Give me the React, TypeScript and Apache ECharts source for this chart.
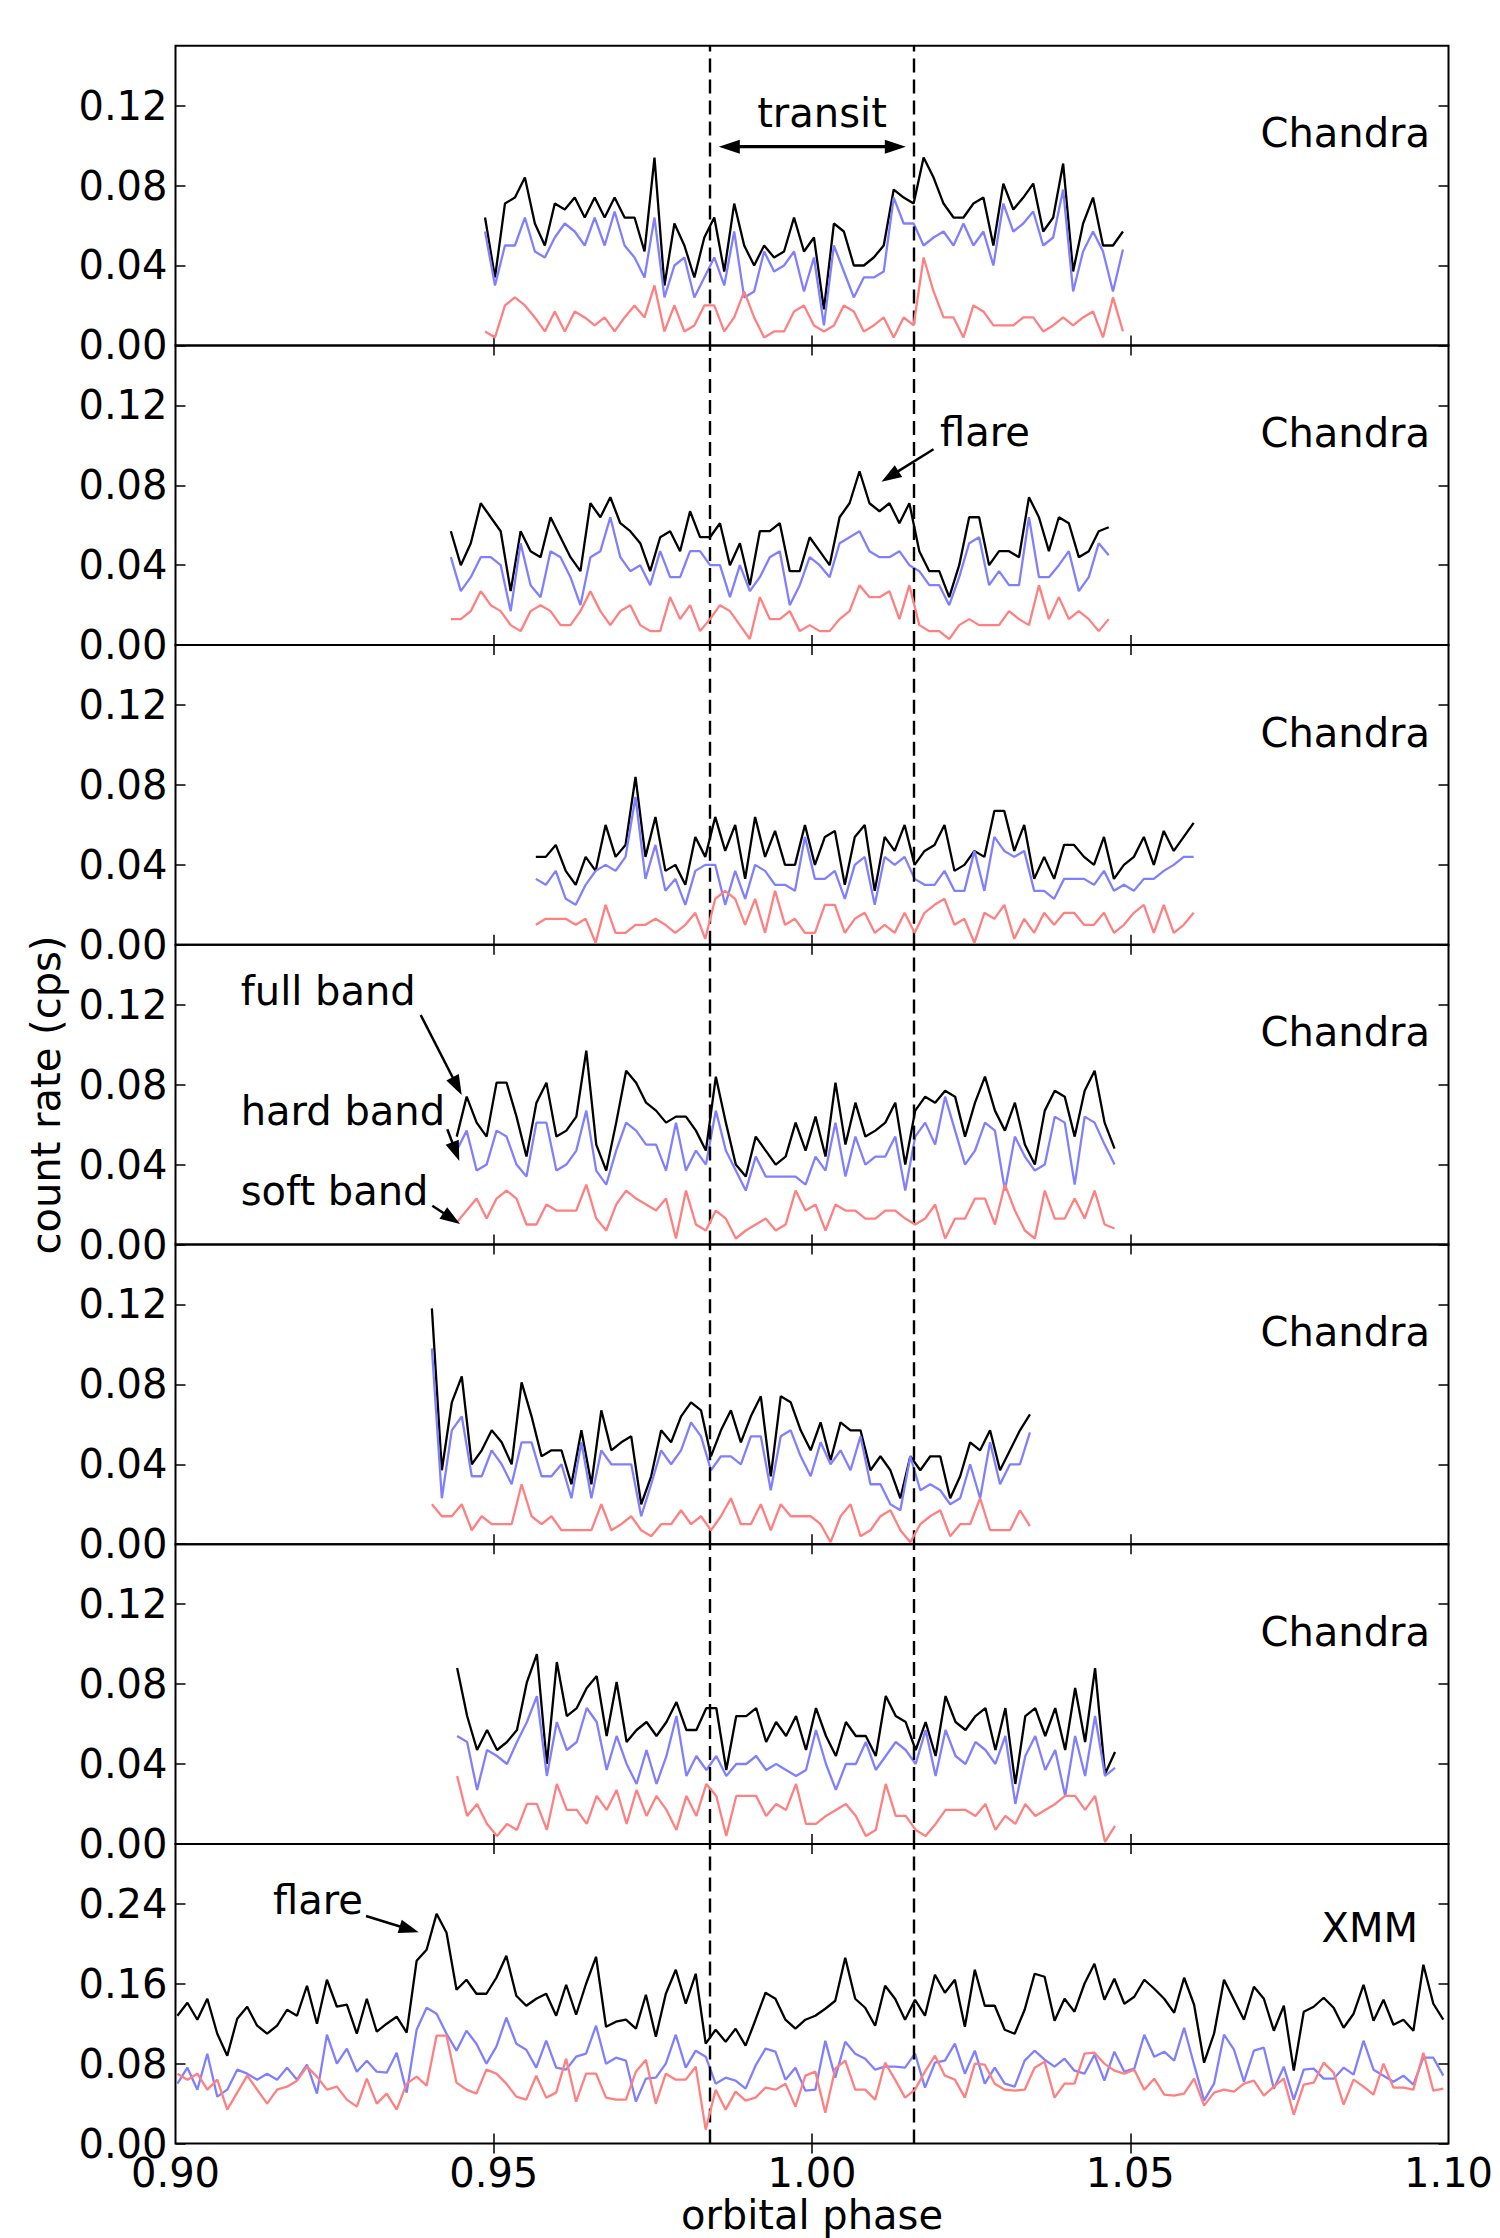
import React, { useEffect, useRef } from "react";
import * as echarts from "echarts";

// ---------- data ----------
const BIN_WIDTH = 0.001566; // phase width of one time bin
const X_TICKS = [0.9, 0.95, 1.0, 1.05, 1.1];
const X_INNER_TICKS = [0.95, 1.0, 1.05];
const CHANDRA_Y_TICKS = [0, 0.04, 0.08, 0.12];
const XMM_Y_TICKS = [0, 0.08, 0.16, 0.24];
const TRANSIT_EDGES = [0.9839, 1.016];

const START_1 = 0.94863;
const full1 = [0.064,0.034,0.071,0.074,0.084,0.061,0.050,0.071,0.068,0.074,0.064,0.074,0.064,0.074,0.064,0.064,0.047,0.094,0.030,0.061,0.050,0.034,0.054,0.064,0.037,0.071,0.050,0.040,0.050,0.044,0.047,0.064,0.047,0.054,0.018,0.061,0.057,0.040,0.040,0.044,0.050,0.078,0.074,0.071,0.094,0.084,0.071,0.064,0.064,0.071,0.074,0.050,0.081,0.068,0.074,0.081,0.057,0.064,0.091,0.037,0.061,0.074,0.050,0.050,0.057];
const hard1 = [0.057,0.030,0.050,0.050,0.064,0.047,0.044,0.054,0.061,0.057,0.050,0.064,0.050,0.067,0.050,0.044,0.034,0.064,0.024,0.040,0.044,0.024,0.034,0.044,0.030,0.057,0.024,0.027,0.047,0.037,0.040,0.047,0.027,0.044,0.010,0.050,0.037,0.024,0.034,0.034,0.037,0.074,0.061,0.061,0.050,0.054,0.057,0.050,0.061,0.050,0.057,0.040,0.071,0.057,0.061,0.067,0.050,0.054,0.078,0.027,0.047,0.057,0.047,0.027,0.048];
const soft1 = [0.007,0.004,0.020,0.024,0.020,0.014,0.007,0.017,0.007,0.017,0.014,0.010,0.014,0.007,0.014,0.020,0.014,0.030,0.007,0.020,0.007,0.010,0.020,0.020,0.007,0.014,0.027,0.014,0.004,0.007,0.007,0.017,0.020,0.010,0.007,0.010,0.020,0.017,0.007,0.010,0.014,0.004,0.014,0.010,0.044,0.027,0.014,0.014,0.004,0.020,0.017,0.010,0.010,0.010,0.014,0.014,0.007,0.010,0.014,0.010,0.014,0.017,0.004,0.024,0.007];

const START_2 = 0.94326;
const full2 = [0.057,0.040,0.051,0.071,0.064,0.057,0.027,0.057,0.047,0.044,0.064,0.054,0.044,0.037,0.071,0.064,0.074,0.061,0.057,0.051,0.037,0.054,0.057,0.047,0.067,0.054,0.054,0.061,0.040,0.051,0.030,0.057,0.057,0.061,0.037,0.037,0.054,0.047,0.040,0.064,0.071,0.087,0.071,0.067,0.071,0.061,0.071,0.047,0.037,0.037,0.024,0.040,0.064,0.064,0.040,0.047,0.047,0.044,0.074,0.064,0.047,0.064,0.061,0.044,0.047,0.057,0.059];
const hard2 = [0.044,0.027,0.034,0.044,0.044,0.040,0.017,0.051,0.030,0.024,0.047,0.044,0.034,0.020,0.044,0.047,0.064,0.044,0.037,0.040,0.030,0.047,0.034,0.034,0.047,0.047,0.040,0.040,0.024,0.040,0.027,0.034,0.044,0.047,0.020,0.030,0.044,0.040,0.034,0.051,0.054,0.057,0.047,0.044,0.044,0.047,0.040,0.037,0.030,0.030,0.020,0.034,0.051,0.054,0.030,0.037,0.030,0.030,0.064,0.034,0.034,0.040,0.047,0.027,0.034,0.051,0.045];
const soft2 = [0.013,0.013,0.017,0.027,0.020,0.017,0.010,0.007,0.017,0.020,0.017,0.010,0.010,0.017,0.027,0.017,0.010,0.017,0.020,0.010,0.007,0.007,0.024,0.013,0.020,0.007,0.013,0.020,0.017,0.010,0.003,0.024,0.013,0.013,0.017,0.007,0.010,0.007,0.007,0.013,0.017,0.030,0.024,0.024,0.027,0.013,0.030,0.010,0.007,0.007,0.003,0.010,0.013,0.010,0.010,0.010,0.017,0.013,0.010,0.030,0.013,0.024,0.013,0.017,0.013,0.007,0.013];

const START_3 = 0.95661;
const full3 = [0.044,0.044,0.050,0.037,0.030,0.044,0.037,0.060,0.044,0.050,0.084,0.044,0.064,0.037,0.040,0.030,0.054,0.044,0.064,0.047,0.060,0.033,0.064,0.044,0.057,0.040,0.040,0.060,0.040,0.054,0.057,0.030,0.054,0.060,0.027,0.054,0.047,0.060,0.040,0.047,0.050,0.060,0.037,0.040,0.047,0.044,0.067,0.067,0.047,0.060,0.033,0.044,0.033,0.050,0.050,0.044,0.040,0.054,0.033,0.040,0.044,0.054,0.040,0.057,0.047,0.054,0.061];
const hard3 = [0.033,0.030,0.037,0.023,0.020,0.030,0.037,0.040,0.037,0.044,0.074,0.033,0.050,0.027,0.033,0.020,0.037,0.040,0.040,0.020,0.037,0.023,0.040,0.037,0.030,0.030,0.027,0.054,0.033,0.033,0.037,0.023,0.040,0.044,0.020,0.044,0.040,0.044,0.033,0.030,0.030,0.037,0.027,0.027,0.047,0.027,0.054,0.047,0.044,0.047,0.027,0.027,0.023,0.033,0.033,0.033,0.030,0.037,0.027,0.030,0.027,0.033,0.033,0.037,0.040,0.044,0.044];
const soft3 = [0.010,0.013,0.013,0.013,0.010,0.013,0.001,0.020,0.006,0.006,0.010,0.010,0.013,0.010,0.006,0.010,0.016,0.003,0.023,0.027,0.023,0.010,0.023,0.006,0.027,0.010,0.013,0.006,0.006,0.020,0.020,0.006,0.013,0.016,0.006,0.010,0.006,0.016,0.006,0.016,0.020,0.023,0.010,0.013,0.001,0.016,0.013,0.020,0.003,0.013,0.006,0.016,0.010,0.016,0.016,0.010,0.010,0.016,0.006,0.010,0.016,0.020,0.006,0.020,0.006,0.010,0.016];

const START_4 = 0.94418;
const full4 = [0.054,0.074,0.061,0.054,0.081,0.081,0.064,0.044,0.071,0.081,0.054,0.057,0.064,0.097,0.050,0.037,0.061,0.087,0.081,0.071,0.067,0.061,0.064,0.064,0.057,0.047,0.084,0.061,0.040,0.034,0.054,0.047,0.040,0.044,0.061,0.047,0.064,0.044,0.081,0.050,0.071,0.054,0.057,0.061,0.071,0.040,0.067,0.074,0.071,0.077,0.074,0.054,0.071,0.084,0.067,0.057,0.071,0.050,0.040,0.067,0.077,0.074,0.054,0.077,0.087,0.061,0.048];
const hard4 = [0.047,0.057,0.037,0.040,0.057,0.054,0.040,0.034,0.061,0.061,0.037,0.040,0.047,0.067,0.037,0.030,0.047,0.061,0.057,0.050,0.050,0.037,0.061,0.037,0.047,0.040,0.067,0.047,0.037,0.027,0.044,0.034,0.034,0.034,0.034,0.030,0.044,0.037,0.061,0.034,0.054,0.040,0.044,0.044,0.054,0.027,0.054,0.061,0.050,0.074,0.057,0.040,0.047,0.061,0.057,0.027,0.054,0.044,0.037,0.040,0.064,0.061,0.030,0.064,0.061,0.050,0.040];
const soft4 = [0.011,0.017,0.023,0.013,0.023,0.027,0.023,0.010,0.010,0.020,0.017,0.017,0.017,0.030,0.013,0.007,0.020,0.027,0.023,0.020,0.017,0.023,0.003,0.027,0.010,0.007,0.017,0.013,0.003,0.007,0.010,0.013,0.007,0.010,0.027,0.017,0.020,0.007,0.020,0.017,0.017,0.013,0.013,0.017,0.017,0.013,0.010,0.013,0.020,0.003,0.013,0.013,0.023,0.023,0.010,0.030,0.017,0.007,0.003,0.027,0.013,0.013,0.023,0.013,0.027,0.010,0.008];

const START_5 = 0.94028;
const full5 = [0.118,0.037,0.071,0.084,0.040,0.047,0.057,0.051,0.040,0.081,0.064,0.044,0.047,0.047,0.030,0.057,0.030,0.067,0.047,0.051,0.054,0.020,0.034,0.057,0.051,0.064,0.071,0.067,0.044,0.057,0.067,0.051,0.064,0.074,0.034,0.074,0.071,0.057,0.047,0.061,0.042,0.061,0.057,0.057,0.037,0.044,0.037,0.023,0.044,0.037,0.044,0.044,0.023,0.034,0.051,0.047,0.057,0.037,0.047,0.057,0.065];
const hard5 = [0.098,0.023,0.057,0.064,0.034,0.034,0.047,0.040,0.030,0.051,0.051,0.034,0.034,0.040,0.023,0.051,0.023,0.047,0.040,0.040,0.040,0.014,0.030,0.047,0.040,0.047,0.061,0.054,0.037,0.044,0.044,0.040,0.054,0.054,0.027,0.054,0.057,0.044,0.034,0.051,0.040,0.047,0.037,0.054,0.030,0.030,0.020,0.017,0.044,0.027,0.030,0.027,0.020,0.023,0.040,0.023,0.051,0.030,0.040,0.040,0.056];
const soft5 = [0.020,0.014,0.014,0.020,0.007,0.014,0.010,0.010,0.010,0.030,0.014,0.010,0.014,0.007,0.007,0.007,0.007,0.020,0.007,0.010,0.014,0.007,0.004,0.010,0.010,0.017,0.010,0.014,0.007,0.014,0.023,0.010,0.010,0.020,0.007,0.020,0.014,0.014,0.014,0.010,0.001,0.014,0.020,0.004,0.007,0.014,0.017,0.007,0.001,0.010,0.014,0.017,0.004,0.010,0.010,0.023,0.007,0.007,0.007,0.017,0.009];

const START_6 = 0.94425;
const full6 = [0.088,0.064,0.047,0.057,0.047,0.051,0.057,0.081,0.095,0.040,0.091,0.064,0.068,0.078,0.084,0.054,0.081,0.051,0.057,0.061,0.054,0.061,0.071,0.057,0.057,0.068,0.068,0.037,0.064,0.064,0.068,0.051,0.061,0.054,0.064,0.047,0.068,0.054,0.044,0.061,0.054,0.054,0.044,0.074,0.064,0.061,0.047,0.061,0.044,0.074,0.061,0.057,0.064,0.068,0.047,0.068,0.030,0.064,0.068,0.054,0.068,0.047,0.078,0.051,0.088,0.035,0.046];
const hard6 = [0.054,0.051,0.027,0.047,0.044,0.040,0.051,0.061,0.074,0.034,0.061,0.047,0.051,0.068,0.061,0.037,0.054,0.040,0.030,0.047,0.030,0.044,0.064,0.034,0.044,0.037,0.044,0.034,0.040,0.040,0.044,0.037,0.040,0.037,0.034,0.037,0.057,0.040,0.027,0.040,0.040,0.051,0.037,0.044,0.051,0.047,0.040,0.057,0.034,0.057,0.044,0.040,0.051,0.047,0.040,0.054,0.020,0.044,0.054,0.037,0.047,0.024,0.054,0.034,0.064,0.034,0.038];
const soft6 = [0.034,0.014,0.020,0.010,0.004,0.010,0.007,0.020,0.020,0.007,0.030,0.017,0.017,0.010,0.024,0.017,0.027,0.010,0.027,0.014,0.024,0.017,0.007,0.024,0.014,0.030,0.024,0.004,0.024,0.024,0.024,0.014,0.020,0.017,0.030,0.010,0.010,0.014,0.017,0.020,0.014,0.004,0.007,0.030,0.014,0.014,0.007,0.004,0.010,0.017,0.017,0.017,0.014,0.020,0.007,0.014,0.010,0.020,0.014,0.017,0.020,0.024,0.024,0.017,0.024,0.001,0.009];

const START_XMM = 0.9003;
const fullXmm = [0.128,0.141,0.124,0.145,0.110,0.088,0.125,0.137,0.118,0.110,0.118,0.134,0.128,0.158,0.120,0.164,0.137,0.139,0.110,0.145,0.112,0.120,0.127,0.111,0.183,0.194,0.230,0.211,0.154,0.164,0.150,0.150,0.166,0.188,0.148,0.138,0.145,0.150,0.128,0.159,0.129,0.160,0.187,0.117,0.122,0.124,0.115,0.149,0.107,0.150,0.174,0.140,0.170,0.100,0.114,0.102,0.115,0.098,0.124,0.151,0.145,0.124,0.115,0.124,0.128,
  0.135,0.143,0.186,0.145,0.136,0.118,0.158,0.145,0.124,0.144,0.128,0.169,0.151,0.164,0.117,0.174,0.138,0.138,0.114,0.110,0.134,0.170,0.167,0.123,0.145,0.132,0.160,0.180,0.144,0.165,0.140,0.147,0.164,0.155,0.145,0.131,0.166,0.139,0.081,0.110,0.164,0.144,0.124,0.157,0.145,0.113,0.138,0.073,0.132,0.137,0.146,0.136,0.116,0.130,0.159,0.123,0.144,0.119,0.124,0.113,0.179,0.140,0.124];
const hardXmm = [0.060,0.076,0.054,0.090,0.047,0.054,0.074,0.070,0.064,0.070,0.064,0.076,0.064,0.079,0.050,0.109,0.080,0.095,0.072,0.083,0.072,0.071,0.091,0.051,0.114,0.136,0.130,0.110,0.093,0.113,0.100,0.080,0.097,0.126,0.100,0.094,0.076,0.103,0.076,0.074,0.087,0.090,0.118,0.080,0.086,0.083,0.042,0.065,0.066,0.080,0.109,0.076,0.093,0.087,0.060,0.066,0.063,0.055,0.078,0.095,0.092,0.064,0.076,0.053,0.054,
  0.103,0.066,0.102,0.090,0.085,0.074,0.077,0.077,0.076,0.090,0.056,0.081,0.083,0.100,0.070,0.093,0.060,0.076,0.060,0.057,0.083,0.093,0.084,0.077,0.085,0.073,0.070,0.089,0.063,0.092,0.072,0.075,0.109,0.087,0.092,0.083,0.116,0.079,0.043,0.060,0.109,0.094,0.062,0.093,0.096,0.055,0.077,0.044,0.074,0.075,0.065,0.065,0.076,0.069,0.103,0.074,0.068,0.062,0.068,0.059,0.086,0.086,0.068];
const softXmm = [0.070,0.064,0.070,0.054,0.064,0.034,0.051,0.068,0.054,0.040,0.054,0.057,0.063,0.077,0.067,0.054,0.057,0.044,0.037,0.065,0.040,0.050,0.034,0.060,0.067,0.058,0.108,0.108,0.061,0.054,0.050,0.074,0.070,0.060,0.047,0.044,0.068,0.046,0.051,0.085,0.042,0.070,0.070,0.046,0.044,0.044,0.072,0.084,0.040,0.070,0.064,0.064,0.077,0.014,0.054,0.034,0.052,0.043,0.046,0.056,0.054,0.060,0.037,0.068,0.072,
  0.031,0.075,0.083,0.054,0.054,0.044,0.081,0.064,0.046,0.054,0.072,0.088,0.068,0.064,0.046,0.080,0.079,0.060,0.054,0.053,0.054,0.076,0.082,0.046,0.060,0.060,0.090,0.091,0.080,0.073,0.070,0.074,0.054,0.065,0.049,0.048,0.050,0.065,0.038,0.051,0.054,0.052,0.060,0.063,0.048,0.057,0.065,0.029,0.059,0.061,0.081,0.071,0.039,0.064,0.057,0.049,0.080,0.056,0.056,0.054,0.091,0.053,0.055];

const PANELS = [
  { start: START_1, full: full1, hard: hard1, soft: soft1, yMax: 0.15, yTicks: CHANDRA_Y_TICKS, name: "Chandra" },
  { start: START_2, full: full2, hard: hard2, soft: soft2, yMax: 0.15, yTicks: CHANDRA_Y_TICKS, name: "Chandra" },
  { start: START_3, full: full3, hard: hard3, soft: soft3, yMax: 0.15, yTicks: CHANDRA_Y_TICKS, name: "Chandra" },
  { start: START_4, full: full4, hard: hard4, soft: soft4, yMax: 0.15, yTicks: CHANDRA_Y_TICKS, name: "Chandra" },
  { start: START_5, full: full5, hard: hard5, soft: soft5, yMax: 0.15, yTicks: CHANDRA_Y_TICKS, name: "Chandra" },
  { start: START_6, full: full6, hard: hard6, soft: soft6, yMax: 0.15, yTicks: CHANDRA_Y_TICKS, name: "Chandra" },
  { start: START_XMM, full: fullXmm, hard: hardXmm, soft: softXmm, yMax: 0.3, yTicks: XMM_Y_TICKS, name: "XMM" },
];

// ---------- layout ----------
const GRID_LEFT = 175.5;
const GRID_RIGHT = 51.5;
const GRID_TOP = 45.7;
const PANEL_H = 299.7;
const FONT = '"DejaVu Sans", sans-serif';
const FS = 40;
const BLACK = "#000000";
const BLUE = "#8080ff";
const RED = "#ff8080";
const LINE_W = 2.3;

function toPoints(start: number, vals: number[]) {
  return vals.map((v, i) => [Number((start + i * BIN_WIDTH).toFixed(6)), v]);
}

function text(x: number, y: number, t: string, align: string, extra: any = {}) {
  return {
    type: "text",
    x,
    y,
    z: 100,
    ...extra,
    style: {
      text: t,
      font: `${FS}px ${FONT}`,
      fill: BLACK,
      align,
      textAlign: align,
      verticalAlign: "middle",
      textVerticalAlign: "middle",
    },
  };
}

function arrow(x1: number, y1: number, x2: number, y2: number, both = false, lw = 2.5, head = 20, half = 7) {
  const dx = x2 - x1, dy = y2 - y1;
  const L = Math.hypot(dx, dy);
  const ux = dx / L, uy = dy / L;
  const px = -uy, py = ux;
  const els: any[] = [];
  const sx = both ? x1 + ux * (head - 2) : x1;
  const sy = both ? y1 + uy * (head - 2) : y1;
  const ex = x2 - ux * (head - 2), ey = y2 - uy * (head - 2);
  els.push({ type: "line", z: 100, shape: { x1: sx, y1: sy, x2: ex, y2: ey }, style: { stroke: BLACK, lineWidth: lw } });
  const bx = x2 - ux * head, by = y2 - uy * head;
  els.push({ type: "polygon", z: 100, shape: { points: [[x2, y2], [bx + px * half, by + py * half], [bx - px * half, by - py * half]] }, style: { fill: BLACK } });
  if (both) {
    const cx = x1 + ux * head, cy = y1 + uy * head;
    els.push({ type: "polygon", z: 100, shape: { points: [[x1, y1], [cx + px * half, cy + py * half], [cx - px * half, cy - py * half]] }, style: { fill: BLACK } });
  }
  return els;
}

function buildOption() {
  const grid: any[] = [];
  const xAxis: any[] = [];
  const yAxis: any[] = [];
  const series: any[] = [];
  const tickStyle = { color: BLACK, width: 1.5 };
  const labelBase = { fontSize: FS, fontFamily: FONT, color: BLACK };

  PANELS.forEach((p, i) => {
    const isLast = i === PANELS.length - 1;
    grid.push({
      left: GRID_LEFT,
      right: GRID_RIGHT,
      top: GRID_TOP + i * PANEL_H,
      height: PANEL_H,
      show: true,
      borderColor: BLACK,
      borderWidth: 2,
      backgroundColor: "transparent",
    });
    ["bottom", "top"].forEach((pos) => {
      xAxis.push({
        type: "value",
        gridIndex: i,
        position: pos,
        min: 0.9,
        max: 1.1,
        axisLine: { show: false },
        splitLine: { show: false },
        axisTick: { show: true, inside: true, length: 10, lineStyle: tickStyle, customValues: X_INNER_TICKS },
        axisLabel: {
          show: isLast && pos === "bottom",
          customValues: X_TICKS,
          formatter: (v: number) => v.toFixed(2),
          margin: 9,
          ...labelBase,
        },
      });
    });
    ["left", "right"].forEach((pos) => {
      yAxis.push({
        type: "value",
        gridIndex: i,
        position: pos,
        min: 0,
        max: p.yMax,
        axisLine: { show: false },
        splitLine: { show: false },
        axisTick: { show: true, inside: true, length: 10, lineStyle: tickStyle, customValues: p.yTicks },
        axisLabel: {
          show: pos === "left",
          customValues: p.yTicks,
          formatter: (v: number) => v.toFixed(2),
          margin: 8,
          ...labelBase,
        },
      });
    });
    const common = { type: "line", xAxisIndex: 2 * i, yAxisIndex: 2 * i, showSymbol: false, symbol: "none", silent: true };
    series.push({
      ...common,
      name: `full band ${i}`,
      z: 3,
      data: toPoints(p.start, p.full),
      lineStyle: { color: BLACK, width: LINE_W },
      markLine: {
        silent: true,
        precision: 5,
        symbol: ["none", "none"],
        label: { show: false },
        lineStyle: { color: BLACK, type: [14, 7], width: 2.4 },
        data: TRANSIT_EDGES.map((x) => ({ xAxis: x })),
      },
    });
    series.push({ ...common, name: `hard band ${i}`, z: 4, data: toPoints(p.start, p.hard), lineStyle: { color: BLUE, width: LINE_W } });
    series.push({ ...common, name: `soft band ${i}`, z: 5, data: toPoints(p.start, p.soft), lineStyle: { color: RED, width: LINE_W } });
  });

  const graphic: any[] = [];
  PANELS.forEach((p, i) => {
    if (p.name === "Chandra") graphic.push(text(1430, GRID_TOP + i * PANEL_H + 87.5, "Chandra", "right"));
    else graphic.push(text(1418, GRID_TOP + i * PANEL_H + 84.5, "XMM", "right"));
  });
  graphic.push(text(822, 113, "transit", "center"));
  graphic.push(...arrow(718.8, 146.7, 905.8, 146.7, true, 3.2, 21, 7));
  graphic.push(text(940, 432, "flare", "left"));
  graphic.push(...arrow(933.5, 449.3, 881.5, 481.7));
  graphic.push(text(273, 1899.7, "flare", "left"));
  graphic.push(...arrow(366, 1916, 418.8, 1932.3));
  graphic.push(text(240.7, 991.3, "full band", "left"));
  graphic.push(...arrow(420.7, 1015, 461.7, 1095));
  graphic.push(text(240.7, 1111.3, "hard band", "left"));
  graphic.push(...arrow(447.3, 1129.3, 459.3, 1161));
  graphic.push(text(240.7, 1191.3, "soft band", "left"));
  graphic.push(...arrow(432.3, 1205.7, 460, 1224));
  graphic.push(text(812, 2215.3, "orbital phase", "center"));
  graphic.push(text(46, 1095, "count rate (cps)", "center", { rotation: Math.PI / 2 }));

  return {
    animation: false,
    backgroundColor: "#ffffff",
    grid,
    xAxis,
    yAxis,
    series,
    graphic,
  };
}

export default function App() {
  const ref = useRef<HTMLDivElement>(null);
  useEffect(() => {
    const chart = echarts.init(ref.current!, null, { renderer: "svg" });
    chart.setOption(buildOption() as any);
    return () => chart.dispose();
  }, []);
  return (
    <div
      ref={ref}
      style={{ position: "absolute", left: 0, top: 0, width: 1500, height: 2238, background: "#ffffff" }}
    />
  );
}
